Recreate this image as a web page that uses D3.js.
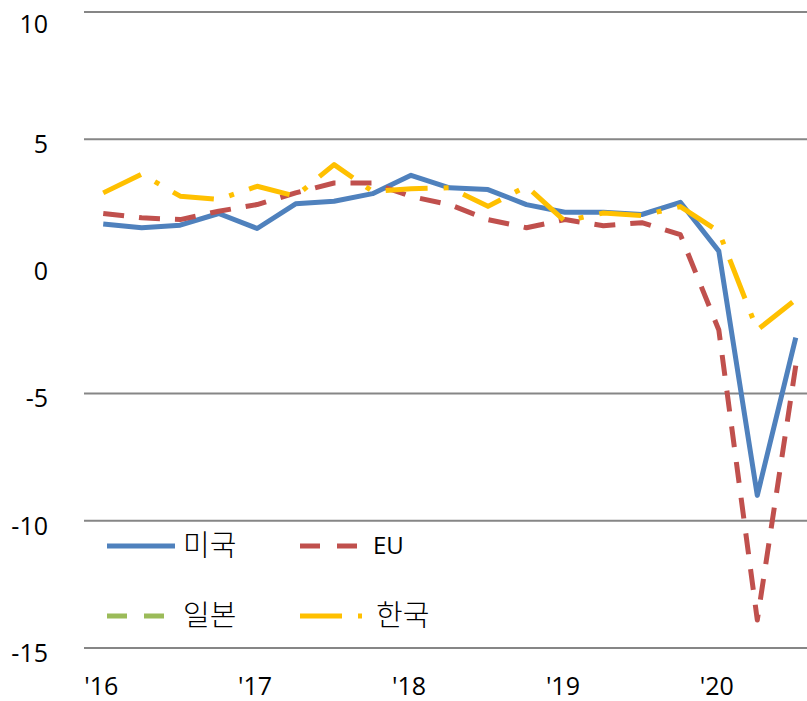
<html>
<head>
<meta charset="utf-8">
<script src="https://cdnjs.cloudflare.com/ajax/libs/d3/7.8.5/d3.min.js"></script>
<style>
  body { margin: 0; background: #fff; }
  text { font-family: "Open Sans", "Noto Sans CJK KR", sans-serif; fill: #000; }
</style>
</head>
<body>
<svg width="807" height="701"></svg>
<script>
    // quarters 2016Q1 .. 2020Q3
    const quarters = ["16Q1","16Q2","16Q3","16Q4","17Q1","17Q2","17Q3","17Q4","18Q1","18Q2","18Q3","18Q4",
                      "19Q1","19Q2","19Q3","19Q4","20Q1","20Q2","20Q3"];
    const yearLabels = ["'16", "'17", "'18", "'19", "'20"];
    const yTicks = [10, 5, -5, -10, -15];
    const yLabels = [10, 5, 0, -5, -10, -15];

    const usa   = [1.67, 1.52, 1.62, 2.08, 1.49, 2.46, 2.56, 2.86, 3.58, 3.09, 3.02, 2.43, 2.13, 2.13, 2.04, 2.52, 0.6, -9.0, -2.8];
    const eu    = [2.08, 1.91, 1.84, 2.17, 2.43, 2.89, 3.28, 3.28, 2.75, 2.43, 1.84, 1.52, 1.84, 1.6, 1.72, 1.25, -2.5, -13.9, -3.9];
    const japan = [];
    const korea = [2.89, 3.63, 2.76, 2.63, 3.15, 2.76, 4.0, 2.95, 3.05, 3.09, 2.36, 3.15, 1.78, 2.1, 2.0, 2.35, 1.37, -2.5, -1.3];

    const series = [
        {name: "미국", values: usa,   color: "#4F81BD", dash: null},
        {name: "EU",   values: eu,    color: "#C0504D", dash: "21,15"},
        {name: "일본", values: japan, color: "#9BBB59", dash: "21,15"},
        {name: "한국", values: korea, color: "#FFC000", dash: "42,16,5,16"}
    ];

    const svg = d3.select("svg");

    const x = d3.scaleBand().domain(quarters).range([84, 815]);
    const y = d3.scaleLinear().domain([-15, 10]).range([648, 12]);
    const cx = q => x(q) + x.bandwidth() / 2;

    // gridlines
    svg.append("g")
        .selectAll("line")
        .data(yTicks)
        .enter()
        .append("line")
        .attr("x1", 84)
        .attr("x2", 807)
        .attr("y1", d => y(d))
        .attr("y2", d => y(d))
        .attr("stroke", "#868686")
        .attr("stroke-width", 2);

    // y labels
    svg.append("g")
        .selectAll("text")
        .data(yLabels)
        .enter()
        .append("text")
        .attr("x", 48)
        .attr("y", d => y(d) + (d === 10 ? 12 : 5))
        .attr("dy", "0.35em")
        .attr("text-anchor", "end")
        .attr("font-size", 25)
        .text(d => d);

    // x labels (Q1 of each year)
    svg.append("g")
        .selectAll("text")
        .data(yearLabels)
        .enter()
        .append("text")
        .attr("x", (d, i) => cx(quarters[i * 4]) - 2)
        .attr("y", 695)
        .attr("text-anchor", "middle")
        .attr("font-size", 25)
        .text(d => d);

    // lines
    const line = d3.line()
        .x((d, i) => cx(quarters[i]))
        .y(d => y(d));

    svg.append("g")
        .selectAll("path")
        .data(series.filter(s => s.values.length))
        .enter()
        .append("path")
        .attr("d", d => line(d.values))
        .attr("fill", "none")
        .attr("stroke", d => d.color)
        .attr("stroke-width", 5)
        .attr("stroke-linejoin", "round")
        .attr("stroke-dasharray", d => d.dash);

    // legend
    const legend = svg.append("g")
        .selectAll("g")
        .data(series)
        .enter()
        .append("g")
        .attr("transform", (d, i) => `translate(${107 + (i % 2) * 193},${546 + Math.floor(i / 2) * 70})`);

    legend.append("line")
        .attr("x1", 0)
        .attr("x2", d => d.name === "한국" ? 62 : 68)
        .attr("y1", 0)
        .attr("y2", 0)
        .attr("stroke", d => d.color)
        .attr("stroke-width", 5)
        .attr("stroke-dasharray", (d, i) => i === 0 ? null : (d.name === "한국" ? "42,16,5,16" : "20,17"));

    legend.append("text")
        .attr("x", d => d.name === "EU" ? 73 : 76)
        .attr("y", 0)
        .attr("dy", "0.35em")
        .attr("font-size", d => d.name === "EU" ? 24 : 29)
        .style("font-family", d => d.name === "EU" ? "'Open Sans'" : "'Noto Sans CJK KR'")
        .style("font-weight", d => d.name === "EU" ? 400 : 300)
        .text(d => d.name);
</script>
</body>
</html>
